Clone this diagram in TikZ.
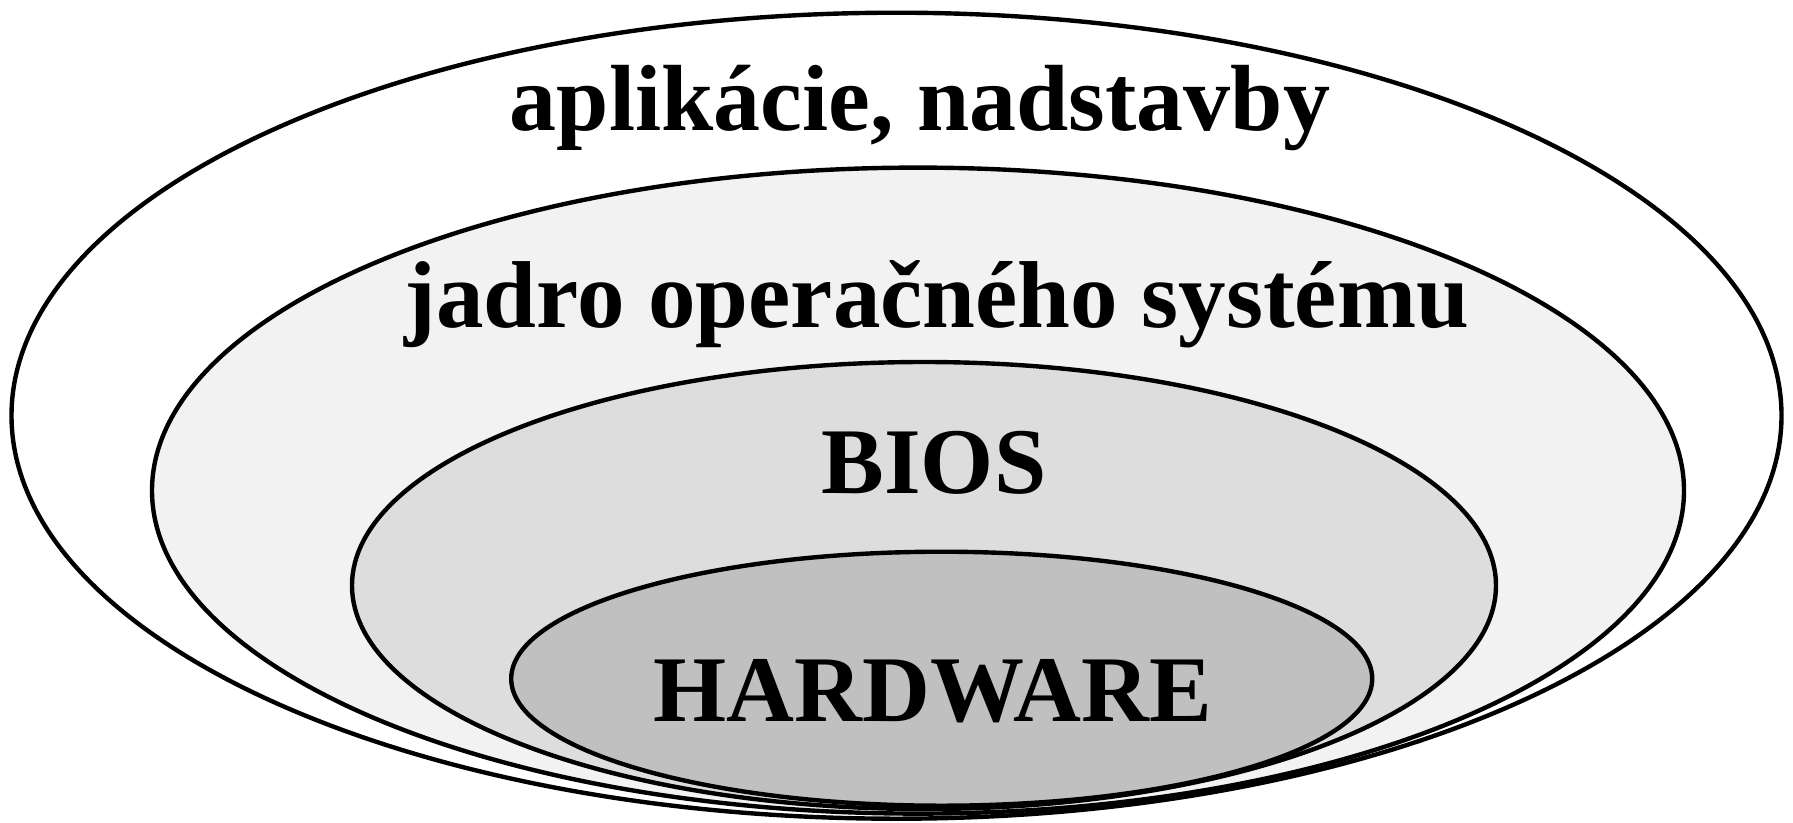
\documentclass[tikz,border=0pt]{standalone}
\usepackage{fontspec}
\setmainfont{Liberation Serif}
\usetikzlibrary{shapes.geometric}
\definecolor{layerA}{HTML}{FFFFFF}
\definecolor{layerB}{HTML}{F2F2F2}
\definecolor{layerC}{HTML}{DDDDDD}
\definecolor{layerD}{HTML}{C0C0C0}
\tikzset{
  layer/.style={ellipse, draw=black, line width=4.4pt, inner sep=0pt, outer sep=0pt},
  lbl/.style={anchor=base, inner sep=0pt, font=\fontsize{94}{94}\selectfont\bfseries}
}
\begin{document}
\begin{tikzpicture}[x=1pt,y=-1pt]
\useasboundingbox[fill=white] (0,0) rectangle (1793,822);
\node[layer, fill=layerA, minimum width=1770pt, minimum height=806pt] (apps) at (896.5,415.7) {};
\node[layer, fill=layerB, minimum width=1532pt, minimum height=646pt] (kernel) at (918,490.6) {};
\node[layer, fill=layerC, minimum width=1144pt, minimum height=447pt] (bios) at (924,585.5) {};
\node[layer, fill=layerD, minimum width=861pt, minimum height=254pt] (hw) at (941.7,678.7) {};
\node[lbl] (tapps) at (920,130) {aplikácie, nadstavby};
\node[lbl, font=\fontsize{95}{95}\selectfont\bfseries] (tkernel) at (937,327) {jadro operačného systému};
\node[lbl] (tbios) at (934,493) {BIOS};
\node[lbl] (thw) at (933,721) {HARDWARE};
\end{tikzpicture}
\end{document}
